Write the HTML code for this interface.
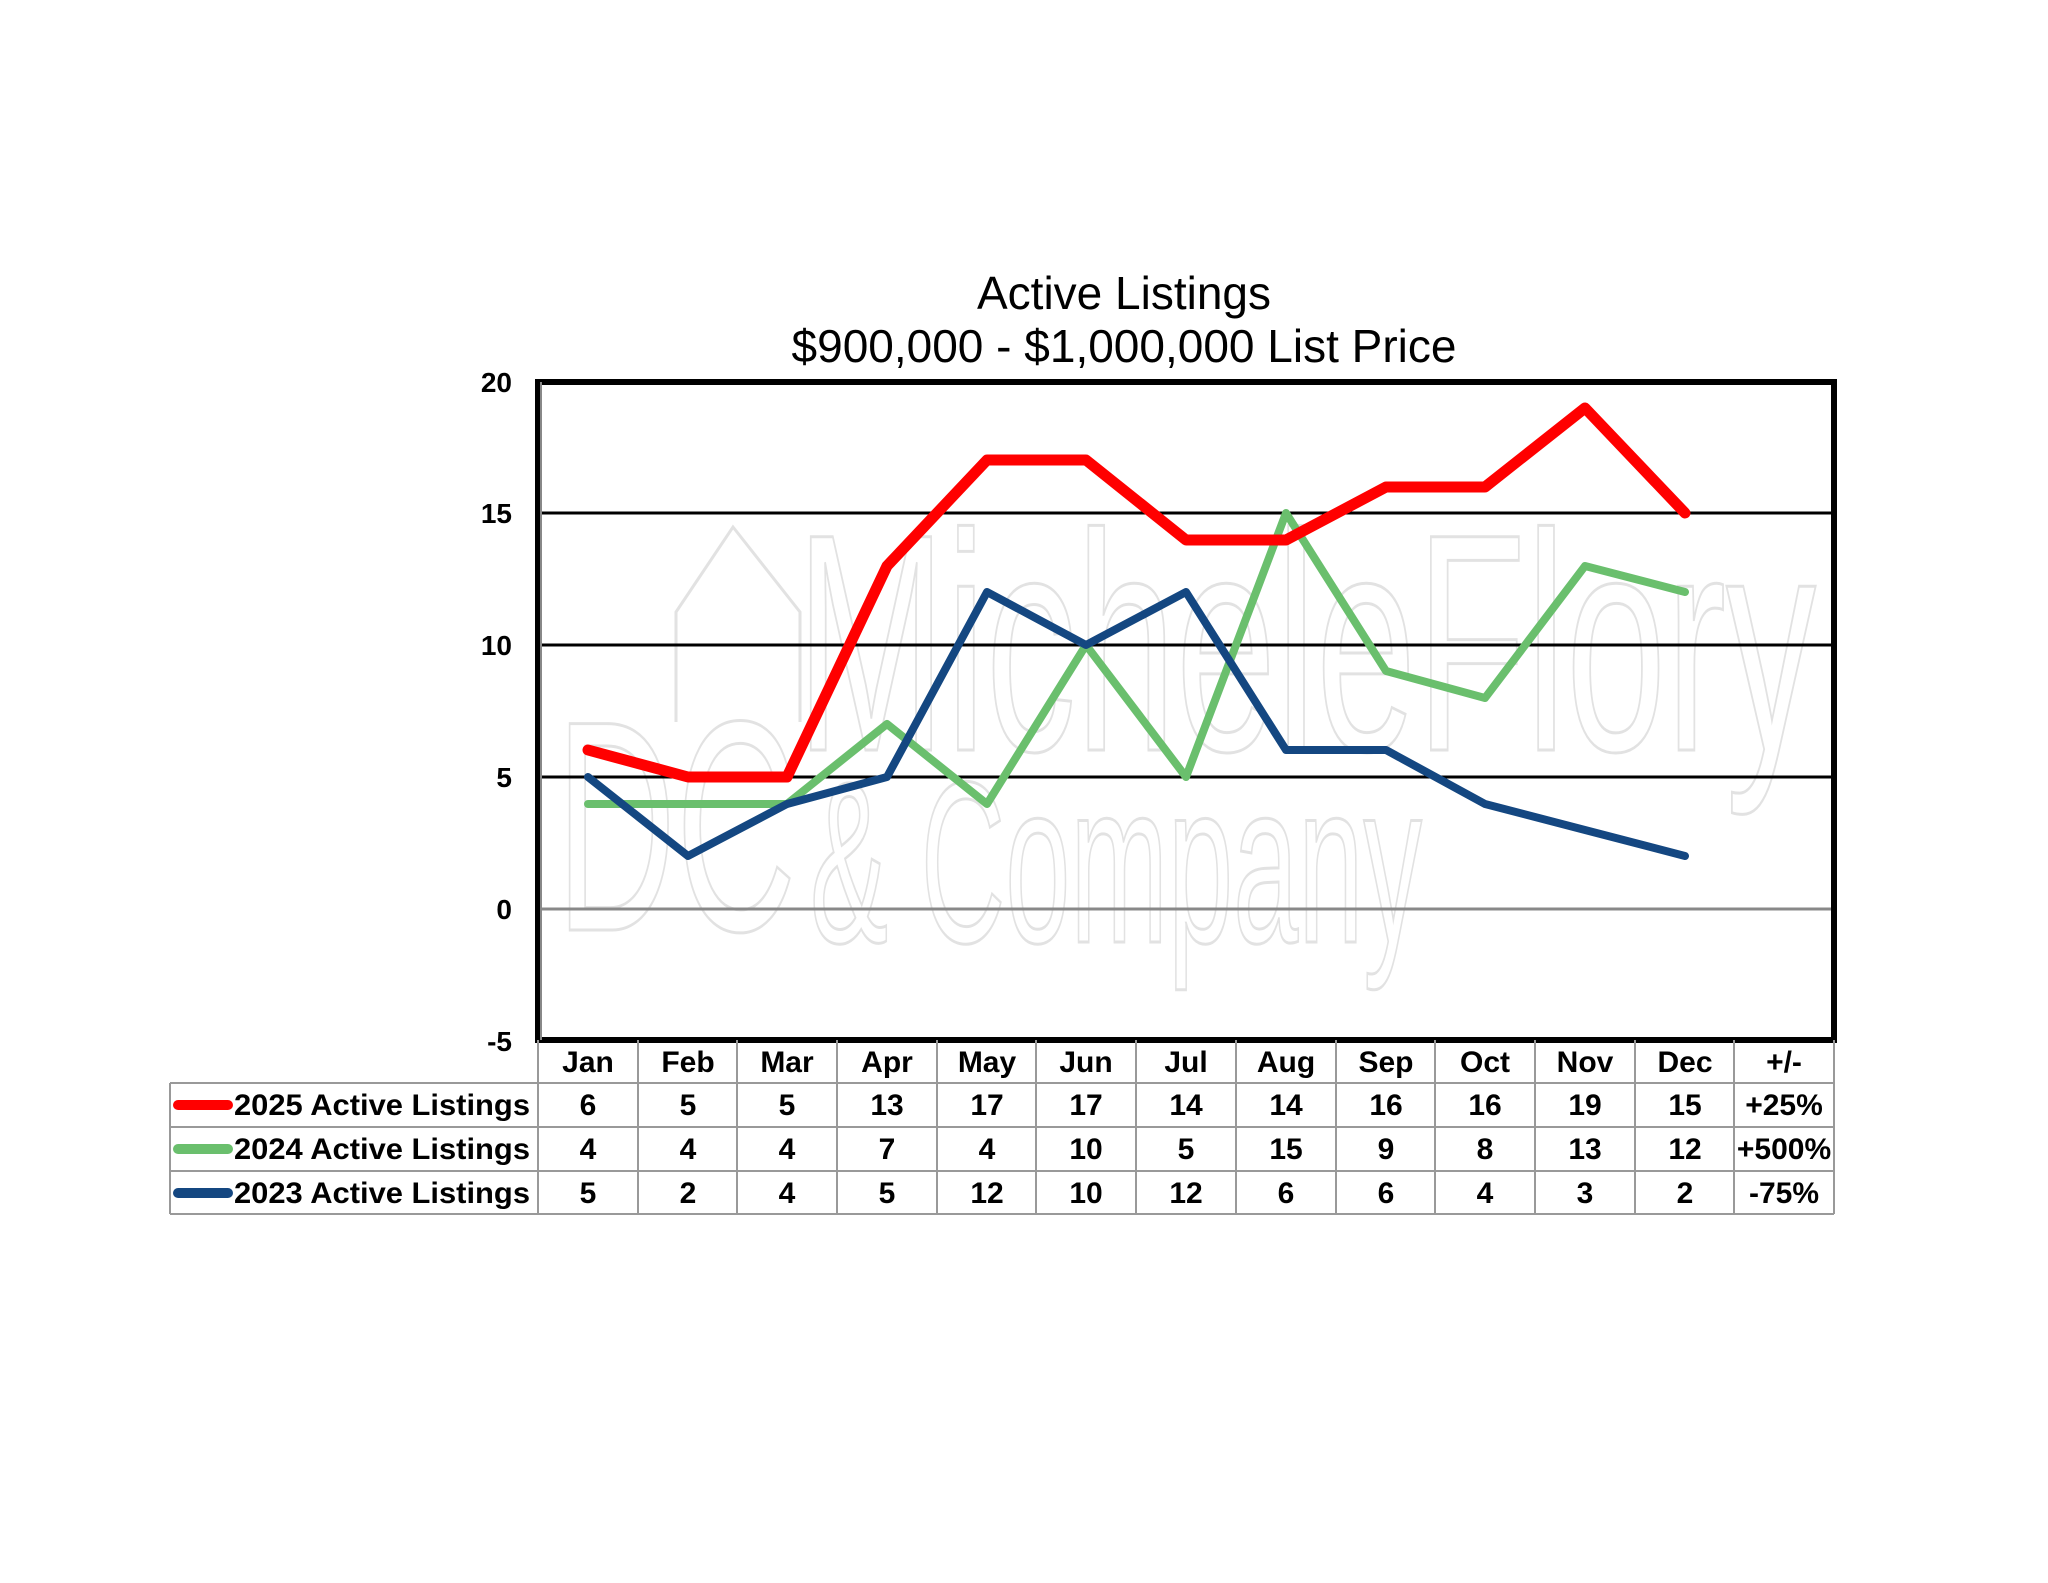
<!DOCTYPE html>
<html><head><meta charset="utf-8"><style>
html,body{margin:0;padding:0;background:#fff;}
svg{display:block;}
text{font-family:"Liberation Sans",Arial,sans-serif;}
</style></head><body>
<svg width="2048" height="1583" viewBox="0 0 2048 1583" xmlns="http://www.w3.org/2000/svg">
<rect width="2048" height="1583" fill="#fff"/>
<!-- watermark -->
<g fill="none" stroke="#e2e2e2" stroke-width="3" font-family="Liberation Sans, sans-serif">
<text x="796" y="750" font-size="310" textLength="1020" lengthAdjust="spacingAndGlyphs">MicheleFlory</text>
<text x="810" y="942" font-size="230" textLength="612" lengthAdjust="spacingAndGlyphs">&amp; Company</text>
<text x="556" y="930" font-size="300" textLength="240" lengthAdjust="spacingAndGlyphs">DC</text>
<path d="M676 722 V612 L733 527 L800 612 V722"/>
</g>
<!-- title -->
<text x="1124" y="309" font-size="46" text-anchor="middle">Active Listings</text>
<text x="1124" y="362" font-size="46" text-anchor="middle">$900,000 - $1,000,000 List Price</text>
<!-- gridlines -->
<g stroke-width="3">
<line x1="538" y1="513" x2="1834" y2="513" stroke="#000"/>
<line x1="538" y1="645" x2="1834" y2="645" stroke="#000"/>
<line x1="538" y1="777" x2="1834" y2="777" stroke="#000"/>
<line x1="538" y1="909" x2="1834" y2="909" stroke="#888"/>
</g>
<!-- plot border -->
<rect x="538" y="382" width="1296" height="658" fill="none" stroke="#000" stroke-width="6"/>
<line x1="541" y1="382" x2="541" y2="1040" stroke="#888" stroke-width="2"/>
<!-- y labels -->
<g font-size="28" font-weight="bold" text-anchor="end">
<text x="512" y="392">20</text>
<text x="512" y="523">15</text>
<text x="512" y="655">10</text>
<text x="512" y="787">5</text>
<text x="512" y="919">0</text>
<text x="512" y="1051">-5</text>
</g>
<!-- series -->
<g fill="none" stroke-linejoin="round" stroke-linecap="round">
<polyline stroke="#6abf6d" stroke-width="8" points="588,804 688,804 787,804 887,724 987,804 1086,645 1186,777 1286,513 1386,671 1485,698 1585,566 1685,592"/>
<polyline stroke="#144781" stroke-width="8" points="588,777 688,856 787,804 887,777 987,592 1086,645 1186,592 1286,750 1386,750 1485,804 1585,830 1685,856"/>
<polyline stroke="#ff0000" stroke-width="11" points="588,750 688,777 787,777 887,566 987,460 1086,460 1186,540 1286,540 1386,487 1485,487 1585,408 1685,513"/>
</g>
<!-- table -->
<g stroke="#999" stroke-width="2" fill="none">
<line x1="538" y1="1083" x2="1834" y2="1083"/>
<line x1="170" y1="1083" x2="538" y2="1083"/>
<line x1="170" y1="1127" x2="1834" y2="1127"/>
<line x1="170" y1="1171" x2="1834" y2="1171"/>
<line x1="170" y1="1214" x2="1834" y2="1214"/>
<line x1="170" y1="1083" x2="170" y2="1214"/>
<line x1="1834" y1="1040" x2="1834" y2="1214"/>
<line x1="538" y1="1040" x2="538" y2="1214"/>
<line x1="638" y1="1040" x2="638" y2="1214"/>
<line x1="737" y1="1040" x2="737" y2="1214"/>
<line x1="837" y1="1040" x2="837" y2="1214"/>
<line x1="937" y1="1040" x2="937" y2="1214"/>
<line x1="1036" y1="1040" x2="1036" y2="1214"/>
<line x1="1136" y1="1040" x2="1136" y2="1214"/>
<line x1="1236" y1="1040" x2="1236" y2="1214"/>
<line x1="1336" y1="1040" x2="1336" y2="1214"/>
<line x1="1435" y1="1040" x2="1435" y2="1214"/>
<line x1="1535" y1="1040" x2="1535" y2="1214"/>
<line x1="1635" y1="1040" x2="1635" y2="1214"/>
<line x1="1734" y1="1040" x2="1734" y2="1214"/>
</g>
<g stroke-width="10" stroke-linecap="round">
<line x1="178" y1="1105" x2="228" y2="1105" stroke="#ff0000"/>
<line x1="178" y1="1149" x2="228" y2="1149" stroke="#6abf6d"/>
<line x1="178" y1="1193" x2="228" y2="1193" stroke="#144781"/>
</g>
<g font-size="30" font-weight="bold">
<text x="234" y="1115" textLength="296" lengthAdjust="spacingAndGlyphs">2025 Active Listings</text>
<text x="234" y="1159" textLength="296" lengthAdjust="spacingAndGlyphs">2024 Active Listings</text>
<text x="234" y="1203" textLength="296" lengthAdjust="spacingAndGlyphs">2023 Active Listings</text>
</g>
<g font-size="30" font-weight="bold" text-anchor="middle">
<text x="588" y="1072">Jan</text><text x="688" y="1072">Feb</text><text x="787" y="1072">Mar</text><text x="887" y="1072">Apr</text><text x="987" y="1072">May</text><text x="1086" y="1072">Jun</text><text x="1186" y="1072">Jul</text><text x="1286" y="1072">Aug</text><text x="1386" y="1072">Sep</text><text x="1485" y="1072">Oct</text><text x="1585" y="1072">Nov</text><text x="1685" y="1072">Dec</text><text x="1784" y="1072">+/-</text>
<text x="588" y="1115">6</text><text x="688" y="1115">5</text><text x="787" y="1115">5</text><text x="887" y="1115">13</text><text x="987" y="1115">17</text><text x="1086" y="1115">17</text><text x="1186" y="1115">14</text><text x="1286" y="1115">14</text><text x="1386" y="1115">16</text><text x="1485" y="1115">16</text><text x="1585" y="1115">19</text><text x="1685" y="1115">15</text><text x="1784" y="1115">+25%</text>
<text x="588" y="1159">4</text><text x="688" y="1159">4</text><text x="787" y="1159">4</text><text x="887" y="1159">7</text><text x="987" y="1159">4</text><text x="1086" y="1159">10</text><text x="1186" y="1159">5</text><text x="1286" y="1159">15</text><text x="1386" y="1159">9</text><text x="1485" y="1159">8</text><text x="1585" y="1159">13</text><text x="1685" y="1159">12</text><text x="1784" y="1159">+500%</text>
<text x="588" y="1203">5</text><text x="688" y="1203">2</text><text x="787" y="1203">4</text><text x="887" y="1203">5</text><text x="987" y="1203">12</text><text x="1086" y="1203">10</text><text x="1186" y="1203">12</text><text x="1286" y="1203">6</text><text x="1386" y="1203">6</text><text x="1485" y="1203">4</text><text x="1585" y="1203">3</text><text x="1685" y="1203">2</text><text x="1784" y="1203">-75%</text>
</g>
</svg>
</body></html>
